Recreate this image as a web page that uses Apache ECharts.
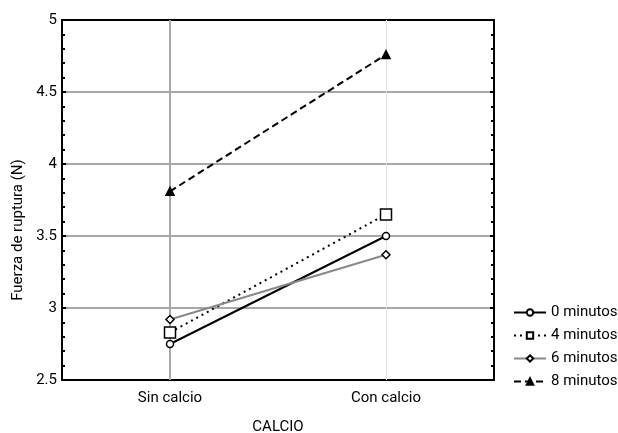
<!DOCTYPE html>
<html>
<head>
<meta charset="utf-8">
<script src="https://cdn.jsdelivr.net/npm/echarts@6/dist/echarts.min.js"></script>
<style>html,body{margin:0;padding:0;background:#fff}#c{width:618px;height:433px}</style>
</head>
<body>
<div id="c"></div>
<script>
var categories = ['Sin calcio', 'Con calcio'];
var seriesNames = ['0 minutos', '4 minutos', '6 minutos', '8 minutos'];
var min0 = [2.75, 3.50];
var min4 = [2.83, 3.65];
var min6 = [2.92, 3.37];
var min8 = [3.81, 4.76];
var yTicks = [2.5, 3, 3.5, 4, 4.5, 5];

var FONT = 'Roboto, "Liberation Sans", Arial, sans-serif';
var FS = 15;
var chart = echarts.init(document.getElementById('c'));

function mk(name, data, symbol, size, lineType, color, fill) {
  return {
    name: name, type: 'line', data: data, xAxisIndex: 0, yAxisIndex: 0,
    symbol: symbol, symbolSize: size, showAllSymbol: true,
    lineStyle: { color: color, width: 2, type: lineType },
    itemStyle: { color: fill, borderColor: '#000', borderWidth: 1.5 },
    emphasis: { disabled: true }, z: 5
  };
}

chart.setOption({
  animation: false,
  backgroundColor: '#fff',
  grid: { left: 62, right: 124, top: 20, bottom: 53, outerBoundsMode: 'none', containLabel: false },
  xAxis: [
    { type: 'category', data: categories, position: 'bottom',
      axisLine: { lineStyle: { color: '#000', width: 2 } },
      axisTick: { inside: true, alignWithLabel: true, length: 3, lineStyle: { color: '#000', width: 2 } },
      axisLabel: { color: '#000', fontFamily: FONT, fontSize: FS, margin: 11 },
      splitLine: { show: false },
      name: 'CALCIO', nameLocation: 'middle', nameGap: 40,
      nameTextStyle: { color: '#000', fontFamily: FONT, fontSize: FS } },
    { type: 'category', data: categories, position: 'top',
      axisLine: { lineStyle: { color: '#000', width: 2 } },
      axisTick: { inside: true, alignWithLabel: true, length: 3, lineStyle: { color: '#000', width: 2 } },
      axisLabel: { show: false }, splitLine: { show: false } }
  ],
  yAxis: [
    { type: 'value', min: yTicks[0], max: yTicks[yTicks.length - 1], interval: 0.5, position: 'left',
      axisLine: { show: true, lineStyle: { color: '#000', width: 2 } },
      axisTick: { show: true, inside: true, length: 4, lineStyle: { color: '#000', width: 2 } },
      minorTick: { show: true, splitNumber: 5, length: 3, lineStyle: { color: '#000', width: 2 } },
      axisLabel: { color: '#000', fontFamily: FONT, fontSize: FS, margin: 5 },
      splitLine: { show: true, lineStyle: { color: '#a8a8a8', width: 2 } },
      name: 'Fuerza de ruptura (N)', nameLocation: 'middle', nameGap: 34, nameRotate: 90,
      nameTextStyle: { color: '#000', fontFamily: FONT, fontSize: FS, padding: [0, 60, 0, 0] } },
    { type: 'value', min: yTicks[0], max: yTicks[yTicks.length - 1], interval: 0.5, position: 'right',
      axisLine: { show: true, lineStyle: { color: '#000', width: 2 } },
      axisTick: { show: true, inside: true, length: 4, lineStyle: { color: '#000', width: 2 } },
      minorTick: { show: true, splitNumber: 5, length: 3, lineStyle: { color: '#000', width: 2 } },
      axisLabel: { show: false }, splitLine: { show: false } }
  ],
  legend: {
    orient: 'vertical', left: 513, top: 305, padding: 0, itemWidth: 32, itemHeight: 8, itemGap: 8,
    textStyle: { color: '#000', fontFamily: FONT, fontSize: FS },
    data: seriesNames
  },
  series: [
    { type: 'line', data: [], xAxisIndex: 0, yAxisIndex: 0, z: 1, silent: true,
      markLine: { silent: true, symbol: 'none', label: { show: false },
        data: [
          { xAxis: categories[0], lineStyle: { color: '#a8a8a8', width: 2, type: 'solid' } },
          { xAxis: categories[1], lineStyle: { color: '#e2e2e2', width: 1, type: 'solid' } }
        ] } },
    mk(seriesNames[0], min0, 'circle', 7, 'solid', '#000', '#fff'),
    mk(seriesNames[1], min4, 'rect', 11, [2, 4], '#000', '#fff'),
    mk(seriesNames[2], min6, 'diamond', 8, 'solid', '#888', '#fff'),
    mk(seriesNames[3], min8, 'triangle', 8, [7, 4], '#000', '#000')
  ]
});
</script>
</body>
</html>
